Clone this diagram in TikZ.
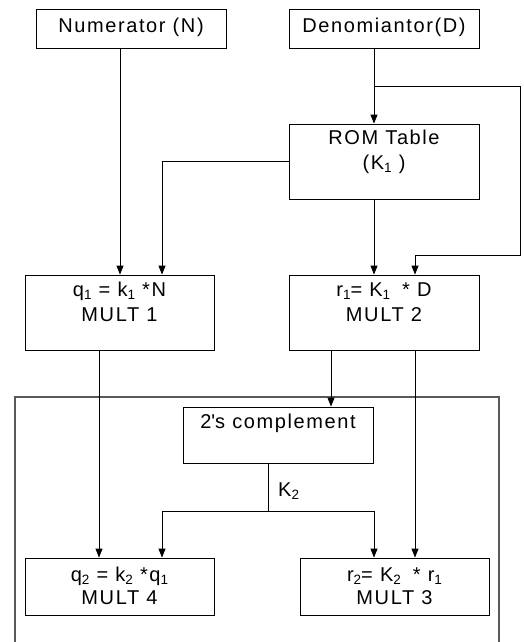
\documentclass[tikz,border=0pt]{standalone}
\usepackage{fontspec}
\setmainfont{Liberation Sans}[LetterSpace=8]
\usetikzlibrary{arrows.meta}
\newcommand{\mysub}[1]{\raisebox{-3.2pt}{\fontsize{13.5}{12}\selectfont #1}}
\begin{document}
\begin{tikzpicture}[x=1pt,y=-1pt,
  box/.style={draw=black,line width=0.8pt,rectangle,inner sep=0pt},
  lbl/.style={inner sep=0pt,font=\fontsize{20}{24}\selectfont},
  conn/.style={draw=black,line width=0.8pt},
  arr/.style={conn,-{Triangle[length=9pt,width=7pt]}},
  outer/.style={draw=black!65,line width=1.1pt}]
\useasboundingbox (0,0) rectangle (524,642);
% boxes
\node[box,minimum width=190pt,minimum height=39pt] (num) at (131,28.5) {};
\node[box,minimum width=190pt,minimum height=39pt] (den) at (384,28.5) {};
\node[box,minimum width=190pt,minimum height=75pt] (rom) at (384,161.5) {};
\node[box,minimum width=189pt,minimum height=75pt] (m1) at (119.5,312.5) {};
\node[box,minimum width=190pt,minimum height=75pt] (m2) at (384,312.5) {};
\node[box,minimum width=190pt,minimum height=56pt] (comp) at (278,435) {};
\node[box,minimum width=189pt,minimum height=57pt] (m4) at (119.5,586.5) {};
\node[box,minimum width=189pt,minimum height=57pt] (m3) at (394.5,586.5) {};
% outer open box
\draw[outer] (15,642) -- (15,397) -- (499,397) -- (499,642);
% texts
\node[lbl,anchor=base] (numt) at (131,33) {Numerator (N)};
\node[lbl,anchor=base] (dent) at (384,33) {Denomiantor(D)};
\node[lbl,anchor=base] (romt1) at (384,144) {ROM Table};
\node[lbl,anchor=base] (romt2) at (384,169) {(K\mysub{1} )};
\node[lbl,anchor=base] (m1t1) at (119.5,296) {q\mysub{1} = k\mysub{1} *N};
\node[lbl,anchor=base] (m1t2) at (119.5,321) {MULT 1};
\node[lbl,anchor=base] (m2t1) at (384,296) {r\mysub{1}= K\mysub{1}\hspace{12pt}* D};
\node[lbl,anchor=base] (m2t2) at (384,321) {MULT 2};
\node[lbl,anchor=base] (compt) at (278,428) {2\textquotesingle s complement};
\node[lbl,anchor=base] (m4t1) at (119.5,581) {q\mysub{2} = k\mysub{2} *q\mysub{1}};
\node[lbl,anchor=base] (m4t2) at (119.5,604) {MULT 4};
\node[lbl,anchor=base] (m3t1) at (394.5,581) {r\mysub{2}= K\mysub{2}\hspace{12pt}* r\mysub{1}};
\node[lbl,anchor=base] (m3t2) at (394.5,604) {MULT 3};
\node[lbl,anchor=base west] (k2) at (278,496.5) {K\mysub{2}};
% connector coordinates
\coordinate (a1) at ([xshift=-11pt]num.south);
\draw[arr] (a1) -- (a1 |- m1.north);
\coordinate (d1) at ([xshift=-10pt]den.south);
\draw[arr] (d1) -- (d1 |- rom.north);
\coordinate (br) at (374,86);
\coordinate (br1) at (520,86);
\coordinate (br2) at (520,255);
\coordinate (br3) at (415,255);
\draw[arr] (br) -- (br1) -- (br2) -- (br3) -- (br3 |- m2.north);
\coordinate (rk) at (162,161.5);
\draw[arr] (rom.west) -- (rk) -- (rk |- m1.north);
\coordinate (rb) at ([xshift=-10pt]rom.south);
\draw[arr] (rb) -- (rb |- m2.north);
\coordinate (q1o) at ([xshift=-20.5pt]m1.south);
\draw[arr] (q1o) -- (q1o |- m4.north);
\coordinate (r1o) at (331,350);
\draw[arr] (r1o) -- (r1o |- comp.north);
\coordinate (r1p) at (415,350);
\draw[arr] (r1p) -- (r1p |- m3.north);
\coordinate (c1) at ([xshift=-10pt]comp.south);
\coordinate (j) at (268,511);
\coordinate (jl) at (162,511);
\coordinate (jr) at (374,511);
\draw[conn] (c1) -- (j);
\draw[arr] (j) -- (jl) -- (jl |- m4.north);
\draw[arr] (j) -- (jr) -- (jr |- m3.north);
\end{tikzpicture}
\end{document}
